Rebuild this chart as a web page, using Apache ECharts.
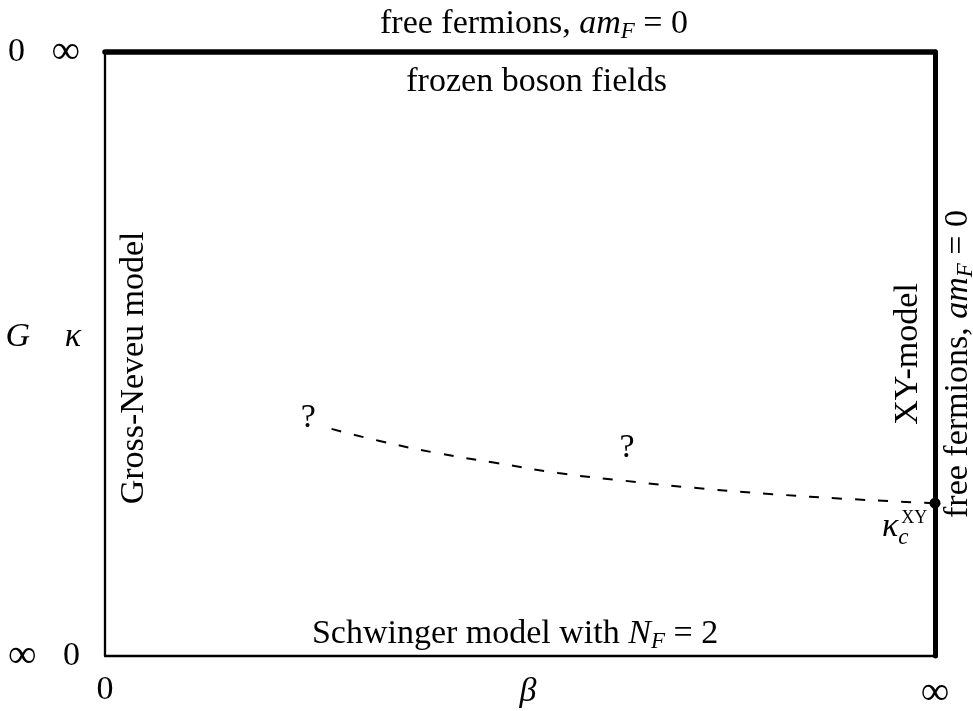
<!DOCTYPE html>
<html style="height: 100%">
<head>
<meta charset="utf-8">
<script src="https://cdn.jsdelivr.net/npm/echarts@6/dist/echarts.min.js"></script>
</head>
<body style="height: 100%; margin: 0; background: #fff">
<div id="container" style="width: 973px; height: 711px"></div>
<script type="text/javascript">
// phase boundary (beta, kappa), axes rescaled to 0..1
var curveBeta  = [0.273, 0.331, 0.400, 0.470, 0.546, 0.627, 0.713, 0.804, 0.895, 1.000];
var curveKappa = [0.376, 0.356, 0.336, 0.320, 0.303, 0.290, 0.278, 0.268, 0.260, 0.253];
// kappa_c^XY point
var xyPoint = [1.0, 0.253];

// axis end labels
var betaLabels  = ['0', '{inf|∞}'];
var kappaLabels = ['0', '{inf|∞}'];
var gLabels     = ['{inf|∞}', '0'];

// region annotations: text, beta, kappa
var annoText  = ['frozen boson fields', 'Schwinger model with {i|N}{s|F} {t|=} 2', 'Gross-Neveu model', 'XY-model', '?', '?', '{i|κ}', '{c|c}', 'XY'];
var annoBeta  = [0.520, 0.494, 0.035, 0.967, 0.245, 0.629, 0.946, 0.962, 0.975];
var annoKappa = [0.950, 0.036, 0.477, 0.500, 0.394, 0.344, 0.214, 0.195, 0.228];

var FONT = 'Liberation Serif';
var rich = {
  i: {fontFamily: FONT, fontStyle: 'italic', fontSize: 34, lineHeight: 38, color: '#000'},
  s: {fontFamily: FONT, fontStyle: 'italic', fontSize: 23, lineHeight: 38, verticalAlign: 'bottom', color: '#000'},
  t: {fontFamily: FONT, fontSize: 34, lineHeight: 38, color: '#000'},
  c: {fontFamily: FONT, fontStyle: 'italic', fontSize: 23, color: '#000'},
  inf: {fontFamily: FONT, fontSize: 40, color: '#000'}
};

var myChart = echarts.init(document.getElementById('container'));

var annoData = [];
for (var i = 0; i < annoText.length; i++) {
  var item = {value: [annoBeta[i], annoKappa[i]], name: annoText[i], label: {}};
  if (annoText[i] === 'Gross-Neveu model' || annoText[i] === 'XY-model') item.label.rotate = 90;
  if (annoText[i] === 'XY') item.label.fontSize = 18;
  annoData.push(item);
}

var curveData = curveBeta.map(function (b, k) { return [b, curveKappa[k]]; });

var labelBase = {fontFamily: FONT, fontSize: 34, color: '#000', rich: rich};
var nameBase = {fontFamily: FONT, fontStyle: 'italic', fontSize: 34, color: '#000'};

var option = {
  backgroundColor: '#fff',
  animation: false,
  textStyle: {fontFamily: FONT, color: '#000'},
  grid: {left: 105, right: 38, top: 52, bottom: 55, outerBoundsMode: 'none', containLabel: false},
  xAxis: [
    {
      type: 'value', min: 0, max: 1, interval: 1, position: 'bottom',
      axisLine: {onZero: false, lineStyle: {color: '#000', width: 2.3}},
      axisTick: {show: false}, splitLine: {show: false},
      axisLabel: Object.assign({margin: 17, formatter: function (v) { return betaLabels[v]; }}, labelBase),
      name: 'β', nameLocation: 'middle', nameGap: 19, nameMoveOverlap: false,
      nameTextStyle: Object.assign({padding: [0, 0, 0, 16]}, nameBase)
    },
    {
      type: 'value', min: 0, max: 1, position: 'top',
      axisLine: {onZero: false, lineStyle: {color: '#000', width: 5.5}},
      axisTick: {show: false}, axisLabel: {show: false}, splitLine: {show: false},
      name: '{t|free fermions, }{i|am}{s|F}{t| = 0}', nameLocation: 'middle', nameGap: 9, nameMoveOverlap: false,
      nameTextStyle: {rich: rich, padding: [0, 0, 0, 28]}
    }
  ],
  yAxis: [
    {
      type: 'value', min: 0, max: 1, interval: 1, position: 'left',
      axisLine: {onZero: false, lineStyle: {color: '#000', width: 2.3}},
      axisTick: {show: false}, splitLine: {show: false},
      axisLabel: Object.assign({margin: 25, formatter: function (v) { return kappaLabels[v]; }}, labelBase),
      name: 'κ', nameLocation: 'middle', nameRotate: 0, nameGap: 24, nameMoveOverlap: false,
      nameTextStyle: Object.assign({verticalAlign: 'bottom'}, nameBase)
    },
    {
      type: 'value', min: 0, max: 1, interval: 1, position: 'left',
      axisLine: {show: false, onZero: false}, axisTick: {show: false}, splitLine: {show: false},
      axisLabel: Object.assign({margin: 97, align: 'left', formatter: function (v) { return gLabels[v]; }}, labelBase),
      name: 'G', nameLocation: 'middle', nameRotate: 0, nameGap: 75, nameMoveOverlap: false,
      nameTextStyle: Object.assign({verticalAlign: 'bottom'}, nameBase)
    },
    {
      type: 'value', min: 0, max: 1, position: 'right',
      axisLine: {onZero: false, lineStyle: {color: '#000', width: 5}},
      axisTick: {show: false}, axisLabel: {show: false}, splitLine: {show: false},
      name: '{t|free fermions, }{i|am}{s|F}{t| = 0}', nameLocation: 'middle', nameRotate: 90, nameGap: 4, nameMoveOverlap: false,
      nameTextStyle: {rich: rich, padding: [0, 20, 0, 0]}
    }
  ],
  series: [
    {
      type: 'line', data: curveData, smooth: true, symbol: 'none',
      lineStyle: {color: '#000', width: 2, type: [10, 13]}
    },
    {
      type: 'scatter', data: [xyPoint], symbolSize: 11,
      itemStyle: {color: '#000', opacity: 1}, z: 5
    },
    {
      type: 'scatter', data: annoData, symbolSize: 0, silent: true,
      itemStyle: {opacity: 1, color: '#000'},
      label: {show: true, position: 'inside', formatter: '{b}', fontFamily: FONT,
        fontSize: 34, color: '#000', rich: rich}
    }
  ]
};
myChart.setOption(option);
</script>
</body>
</html>
